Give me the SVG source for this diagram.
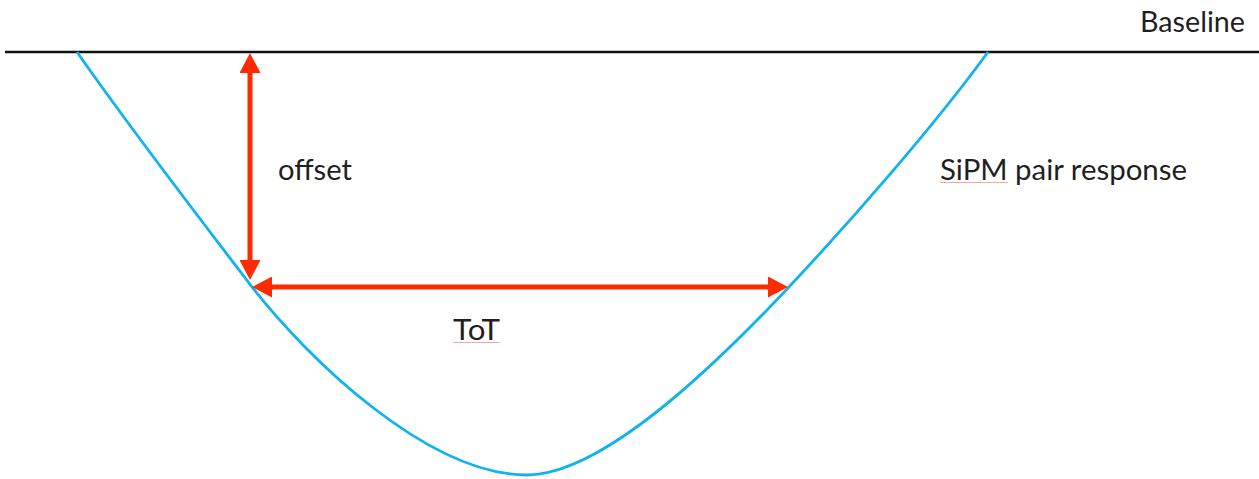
<svg xmlns="http://www.w3.org/2000/svg" width="1259" height="479" viewBox="0 0 1259 479">
  <style>
    .lbl { font-family: Lato, "Open Sans", "Liberation Sans", sans-serif; font-size: 28px; fill: #1f1f1f; }
    .arrow { stroke: #ff2a00; stroke-width: 5; fill: none; marker-start: url(#head); marker-end: url(#head); }
    .squig { stroke: #f2a9a9; stroke-width: 1.2; fill: none; }
  </style>
  <defs>
    <marker id="head" viewBox="0 0 20 21" markerWidth="20" markerHeight="21" markerUnits="userSpaceOnUse" refX="10" refY="10.5" orient="auto-start-reverse">
      <path d="M0,0 L20,10.5 L0,21 Z" fill="#ff2a00"/>
    </marker>
  </defs>
  <rect width="1259" height="479" fill="#ffffff"/>

  <g id="baseline">
    <line x1="5" y1="52" x2="1259" y2="52" stroke="#111111" stroke-width="2.6"/>
    <text class="lbl" x="1140" y="32" textLength="105" lengthAdjust="spacingAndGlyphs">Baseline</text>
  </g>

  <g id="response">
    <path d="M77,52 C135,135 195,212 252,287 C306.6,357 427,475 527,475 C602,475 712.8,368 788,288 C850,222 935,125 988,52" fill="none" stroke="#12b2ef" stroke-width="2.8"/>
    <text class="lbl" x="940" y="180" textLength="247" lengthAdjust="spacingAndGlyphs">SiPM pair response</text>
    <path class="squig" d="M940,182.5 L1008,182.5"/>
  </g>

  <g id="offset">
    <text class="lbl" x="278" y="180" textLength="74" lengthAdjust="spacingAndGlyphs">offset</text>
  </g>

  <g id="tot">
    <text class="lbl" x="453" y="340" textLength="47" lengthAdjust="spacingAndGlyphs">ToT</text>
    <path class="squig" d="M453,342.5 L500,342.5"/>
  </g>

  <g id="connectors">
    <line class="arrow" x1="250" y1="63" x2="250" y2="270"/>
    <line class="arrow" x1="262" y1="287" x2="778" y2="287"/>
  </g>
</svg>
